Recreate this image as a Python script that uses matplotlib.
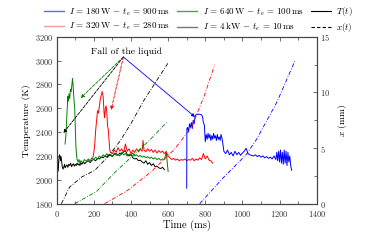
import matplotlib
matplotlib.use("Agg")
import matplotlib.pyplot as plt
from matplotlib.lines import Line2D
from matplotlib.ticker import MultipleLocator

plt.rcParams['font.family'] = 'serif'
plt.rcParams['font.serif'] = ['cmr10', 'DejaVu Serif']
plt.rcParams['mathtext.fontset'] = 'cm'
plt.rcParams['axes.unicode_minus'] = False
plt.rcParams['axes.formatter.use_mathtext'] = True

# ---- temperature series T(t) ----
t_4kw = [0,2,3,4,6,9,12,15,18,21,24,27,30,34,38,42,46,50,55,60,65,70,75,80,85,90,95,100,105,110,
         115,120,125,130,135,140,145,150,160,170,180,190,200,210,220,230,240,250,260,270,
         280,290,300,310,320,330,340,350,360,370,380,390,400,410,420,430,440,450,460,470,
         480,490,500,510,520,530,540,550,560,570,580]
T_4kw = [2850,2840,2600,2250,2070,2110,2170,2210,2200,2160,2190,2150,2110,2090,2105,2130,2100,2115,2125,2105,
         2130,2120,2140,2110,2125,2135,2115,2130,2120,2140,2125,2135,2120,2145,2130,2140,2150,2135,2150,2160,
         2145,2165,2170,2160,2180,2175,2190,2185,2200,2190,2210,2205,2195,2215,2220,2205,2225,2215,2235,2245,
         2210,2200,2215,2185,2175,2180,2160,2165,2150,2140,2160,2130,2145,2120,2135,2110,2115,2100,2095,2105,
         2085]

t_640 = [45,50,55,60,63,66,70,74,78,82,85,88,91,94,97,100,103,106,110,115,120,125,
         130,140,150,160,170,180,190,200,210,220,230,240,250,260,270,280,290,300,310,320,
         330,340,350,360,370,380,390,400,410,420,430,440,450,460,470,480,490,500,510,520,
         530,540,550,560,570,580,585,590,595,600]
T_640 = [2300,2380,2550,2700,2660,2720,2680,2760,2740,2800,2850,2800,2720,2650,2600,2450,2300,2220,2170,2150,2170,2140,
         2160,2145,2170,2155,2175,2160,2185,2170,2190,2175,2200,2185,2210,2195,2220,2200,2215,2195,2225,2205,
         2215,2200,2230,2210,2220,2200,2215,2205,2225,2200,2210,2195,2205,2190,2200,2185,2195,2180,2190,2175,
         2185,2170,2180,2165,2175,2170,2200,2240,2150,2070]

t_320 = [195,200,205,210,215,220,225,230,235,240,245,250,255,258,262,266,270,274,278,282,286,290,
         300,310,320,330,340,350,360,370,380,390,400,410,420,430,440,450,460,465,470,480,490,500,
         510,520,530,540,550,560,570,580,590,600,610,620,630,640,650,660,670,680,690,700,
         710,720,730,740,750,760,770,780,790,800,810,820,830,840]
T_320 = [2190,2230,2300,2420,2500,2580,2560,2620,2680,2710,2740,2700,2560,2520,2600,2620,2560,2450,2420,2330,2250,2230,
         2220,2250,2230,2270,2240,2260,2230,2300,2240,2260,2220,2250,2230,2260,2235,2255,2240,2330,2250,2235,2260,2240,
         2255,2230,2250,2225,2245,2230,2240,2220,2235,2200,2185,2170,2180,2165,2175,2160,2170,2165,2175,2160,
         2170,2165,2180,2160,2175,2165,2185,2170,2220,2175,2200,2165,2160,2140]

t_180 = [700,701,705,710,715,720,725,730,735,740,745,750,760,770,780,785,790,795,800,805,810,815,820,825,830,
         835,840,845,850,855,860,865,870,875,880,885,890,895,900,910,920,930,940,950,960,970,980,990,1000,
         1010,1020,1030,1040,1050,1060,1070,1080,1090,1100,1110,1120,1130,1140,1150,1160,1170,1180,1185,1190,
         1195,1200,1205,1210,1215,1220,1225,1230,1235,1240,1245,1250,1255,1260,1265]
T_180 = [1930,2430,2440,2400,2470,2440,2480,2430,2500,2470,2530,2545,2550,2550,2545,2530,2480,2460,2320,2380,2340,2390,2350,2380,2330,
         2370,2340,2390,2350,2370,2330,2380,2340,2360,2330,2380,2350,2300,2240,2220,2250,2210,2230,2200,2240,2210,2230,2205,2225,
         2240,2265,2220,2210,2205,2200,2210,2195,2205,2190,2200,2185,2195,2180,2190,2175,2200,2170,2230,2160,
         2240,2150,2250,2140,2230,2130,2250,2140,2240,2120,2230,2150,2200,2120,2080]

# ---- position series x(t) (mm) ----
tx_4kw = [25,70,135,205,275,340,400,470,540,598]
x_4kw = [0,1.5,2.4,3.0,4.2,5.6,7.2,9.3,11.1,12.6]
tx_640 = [97,161,215,312,403,500,592]
x_640 = [0,0.6,1.1,2.8,4.2,5.7,7.3]
tx_320 = [258,320,382,511,635,727,797,851]
x_320 = [0,0.6,1.2,2.9,4.9,6.9,9.8,12.5]
tx_180 = [770,830,895,1020,1077,1185,1282]
x_180 = [0,1.1,2.3,4.4,5.8,9.1,12.8]

# ---- annotation ----
apex = (359, 3030)
arrow_ends = [(36, 2393), (129, 2686), (293, 2586), (745, 2527)]
arrow_colors = ['black', 'green', 'red', 'blue']
arrow_styles = ['--', '--', '--', '-']

labels = [r'$I\,=\,180\,\mathrm{W}\,-\,t_e\,=\,900\,\mathrm{ms}$',
          r'$I\,=\,320\,\mathrm{W}\,-\,t_e\,=\,280\,\mathrm{ms}$',
          r'$I\,=\,640\,\mathrm{W}\,-\,t_e\,=\,100\,\mathrm{ms}$',
          r'$I\,=\,4\,\mathrm{kW}\,-\,t_e\,=\,10\,\mathrm{ms}$',
          r'$T(t)$', r'$x(t)$']

fig = plt.figure(figsize=(3.74, 2.41), dpi=100)
ax = fig.add_axes([0.1516, 0.1548, 0.6952, 0.6929])
ax2 = ax.twinx()

lw = 0.7
ax.plot(t_4kw, T_4kw, color='black', lw=lw)
ax.plot(t_640, T_640, color='#008000', lw=lw)
ax.plot(t_320, T_320, color='red', lw=lw)
ax.plot(t_180, T_180, color='blue', lw=lw)

dd = (0, (5, 2, 1, 2))
ax2.plot(tx_4kw, x_4kw, color='black', lw=0.6, ls=dd)
ax2.plot(tx_640, x_640, color='#008000', lw=0.6, ls=dd)
ax2.plot(tx_320, x_320, color='red', lw=0.6, ls=dd)
ax2.plot(tx_180, x_180, color='blue', lw=0.6, ls=dd)

for (ex, ey), c, s in zip(arrow_ends, arrow_colors, arrow_styles):
    ax.annotate('', xy=(ex, ey), xytext=apex,
                arrowprops=dict(arrowstyle='-|>', color=c, lw=0.6, ls=s,
                                mutation_scale=5, shrinkA=0, shrinkB=0))
ax.text(377, 3075, 'Fall of the liquid', ha='center', va='center', fontsize=7)

ax.set_xlim(0, 1400)
ax.set_ylim(1800, 3200)
ax2.set_ylim(0, 15)
ax.xaxis.set_major_locator(MultipleLocator(200))
ax.xaxis.set_minor_locator(MultipleLocator(100))
ax.yaxis.set_major_locator(MultipleLocator(200))
ax2.yaxis.set_major_locator(MultipleLocator(5))
ax2.yaxis.set_minor_locator(MultipleLocator(2.5))

for a in (ax, ax2):
    a.tick_params(direction='in', which='both', labelsize=6, length=3, width=0.5, colors='#333333',
                  pad=2.5)
    a.tick_params(which='minor', length=2)
    for sp in a.spines.values():
        sp.set_linewidth(0.8)
        sp.set_color('#444444')
ax.tick_params(axis='x', which='both', top=True, pad=4)
ax.set_xlabel('Time (ms)', fontsize=7.5, labelpad=0.5)
ax.set_ylabel('Temperature (K)', fontsize=7, labelpad=3)
ax2.set_ylabel(r'$x$ (mm)', fontsize=7, labelpad=4)

handles = [Line2D([], [], color='blue', lw=1, alpha=0.6),
           Line2D([], [], color='red', lw=1, alpha=0.4),
           Line2D([], [], color='#008000', lw=1, alpha=0.7),
           Line2D([], [], color='#555555', lw=1, alpha=0.8),
           Line2D([], [], color='black', lw=0.8),
           Line2D([], [], color='black', lw=0.8, ls=(0, (3, 2)))]
fig.legend(handles, labels, ncol=3, loc='upper center', bbox_to_anchor=(0.53, 1.0),
           frameon=False, fontsize=6.5, handlelength=2.2, columnspacing=0.8,
           handletextpad=0.6, labelspacing=0.3, borderaxespad=0.2)

fig.savefig('out.png', dpi=100)
